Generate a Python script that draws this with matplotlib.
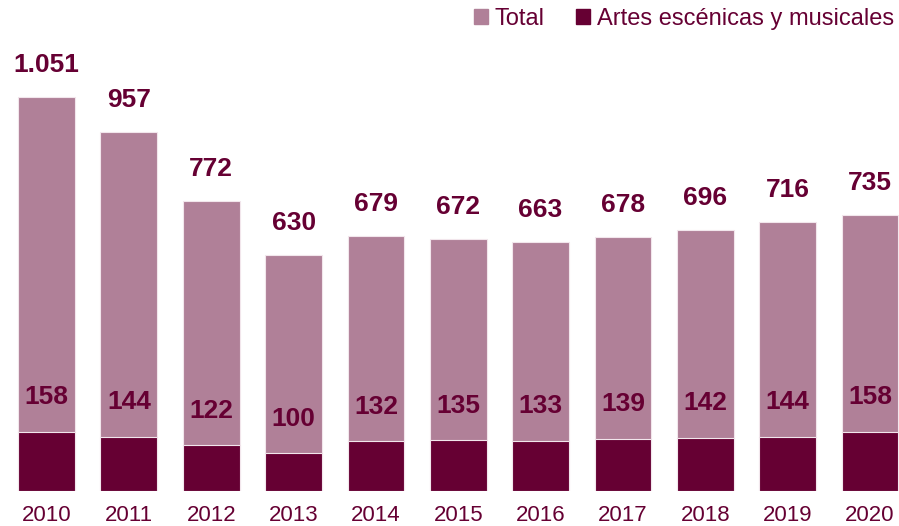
import matplotlib
matplotlib.use("Agg")

import matplotlib.pyplot as plt
import matplotlib.patches as mpatches
import numpy as np

YEARS = ["2010", "2011", "2012", "2013", "2014", "2015", "2016", "2017", "2018", "2019", "2020"]
TOTAL = [1051, 957, 772, 630, 679, 672, 663, 678, 696, 716, 735]
ARTES = [158, 144, 122, 100, 132, 135, 133, 139, 142, 144, 158]

LIGHT = "#b08098"
DARK = "#660033"
TEXT = "#660033"

plt.rcParams["font.family"] = ["Liberation Sans", "DejaVu Sans"]


def fmt(v):
    return f"{v:,}".replace(",", ".")


def main():
    fig = plt.figure(figsize=(8.99, 5.26), dpi=100, facecolor="white")
    ax = fig.add_axes([0.0, 35 / 526, 1.0, 491 / 526])

    x = np.arange(len(YEARS))
    ax.bar(x, TOTAL, width=0.69, color=LIGHT, edgecolor="#f2e6ec", linewidth=0.8)
    ax.bar(x, ARTES, width=0.69, color=DARK, edgecolor="#f2e6ec", linewidth=0.8)

    for xi, t, a in zip(x, TOTAL, ARTES):
        ax.annotate(fmt(t), (xi, t), xytext=(0, 23), textcoords="offset points",
                    ha="center", va="center", fontsize=19, fontweight="bold", color=TEXT)
        ax.annotate(fmt(a), (xi, a), xytext=(0, 25), textcoords="offset points",
                    ha="center", va="center", fontsize=19, fontweight="bold", color=TEXT)

    ax.set_xlim(-0.565, 10.352)
    ax.set_ylim(0, 1309)
    ax.set_xticks(x)
    ax.set_xticklabels(YEARS, fontsize=16, color=TEXT)
    ax.tick_params(axis="x", length=0, pad=10)
    ax.set_yticks([])
    for s in ax.spines.values():
        s.set_visible(False)

    handles = [mpatches.Patch(color=LIGHT, label="Total"),
               mpatches.Patch(color=DARK, label="Artes escénicas y musicales")]
    leg = fig.legend(handles=handles, loc="upper right", bbox_to_anchor=(1.018, 1.025),
                     ncol=2, frameon=False, fontsize=17, handlelength=0.6,
                     handleheight=0.6, handletextpad=0.3, columnspacing=1.3)
    for t in leg.get_texts():
        t.set_color(TEXT)

    fig.savefig("out.png", dpi=100, facecolor="white")
    plt.close(fig)


if __name__ == "__main__":
    main()
